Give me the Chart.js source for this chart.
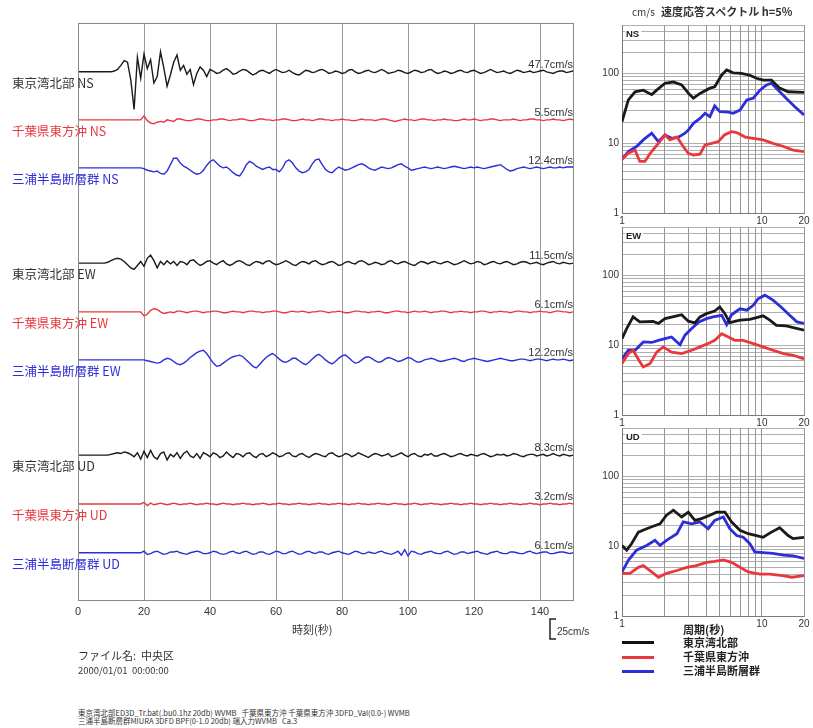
<!DOCTYPE html>
<html>
<head>
<meta charset="utf-8">
<script src="https://cdn.jsdelivr.net/npm/chart.js@4/dist/chart.umd.min.js"></script>
<style>
  body { margin: 0; background: #fff; width: 813px; height: 728px; position: relative; overflow: hidden;
         font-family: "Noto Sans CJK JP", "Noto Sans", sans-serif; color: #222; }
  canvas { position: absolute; }
  .t { position: absolute; white-space: nowrap; line-height: 1; }
  .lg { position: absolute; left: 622px; width: 32px; height: 3px; }
</style>
</head>
<body>
<canvas id="wave" width="620" height="690" style="left:0;top:0"></canvas>
<canvas id="specNS" width="223" height="212" style="left:590px;top:15px"></canvas>
<canvas id="specEW" width="223" height="212" style="left:590px;top:217px"></canvas>
<canvas id="specUD" width="223" height="212" style="left:590px;top:418px"></canvas>

<div class="t" style="left:632px;top:7px;font-size:10px;color:#333">cm/s</div>
<div class="t" style="left:661px;top:6px;font-size:11px;font-weight:bold;color:#333">速度応答スペクトル h=5%</div>

<div class="t" style="left:292px;top:624px;font-size:11px;color:#333">時刻(秒)</div>
<div class="t" style="left:78px;top:650px;font-size:11px;color:#333">ファイル名:&nbsp;&nbsp;中央区</div>
<div class="t" style="left:78px;top:666px;font-size:9.5px;color:#333">2000/01/01&nbsp;&nbsp;00:00:00</div>
<div class="t" style="left:78px;top:709px;font-size:7.5px;color:#333">東京湾北部ED3D_Tr.bat(.bu0.1hz 20db) WVMB&nbsp;&nbsp; 千葉県東方沖 千葉県東方沖 3DFD_Val(0.0-) WVMB</div>
<div class="t" style="left:78px;top:717px;font-size:7.5px;color:#333">三浦半島断層群MIURA 3DFD BPF(0-1.0 20db) 端入力WVMB&nbsp;&nbsp; Ca.3</div>

<div class="t" style="left:683px;top:624px;font-size:11px;font-weight:bold;color:#222">周期(秒)</div>
<div class="lg" style="top:641px;background:#111"></div>
<div class="lg" style="top:656px;background:#e8383d"></div>
<div class="lg" style="top:670px;background:#2e2ed8"></div>
<div class="t" style="left:683px;top:637px;font-size:11px;font-weight:bold;color:#222">東京湾北部</div>
<div class="t" style="left:683px;top:651px;font-size:11px;font-weight:bold;color:#222">千葉県東方沖</div>
<div class="t" style="left:683px;top:665px;font-size:11px;font-weight:bold;color:#222">三浦半島断層群</div>

<script>
// ---- waveform data (cm/s, one sample per second, 0..150 s) ----
const TIME = Array.from({ length: 151 }, (_, i) => i);
const TIME_TICKS = [0, 20, 40, 60, 80, 100, 120, 140];

const STATIONS = ["東京湾北部", "千葉県東方沖", "三浦半島断層群"];
const COMPONENTS = ["NS", "EW", "UD"];
const PEAKS = [47.7, 5.5, 12.4, 11.5, 6.1, 12.2, 8.3, 3.2, 6.1];

const TOKYO_NS = [
  0,0,0,0,0,0,0,0,0,0,
  0,1,3,8,14,12,-10,-47,18,-8,
  22,4,15,-14,-6,25,5,-18,-4,12,
  21,2,8,-3,3,-16,-2,6,2,-6,
  3,1,-2,-1,2,4,1,-3,-2,1,
  3,2,-1,-4,-2,1,2,0,-2,1,
  3,1,-1,0,2,-1,-3,-4,-1,2,
  1,-1,0,2,3,1,-2,-1,1,0,
  -2,-1,2,3,0,-2,-1,1,2,0,
  -1,1,3,1,-2,-1,0,2,1,-1,
  -2,0,2,1,-1,0,2,3,0,-2,
  -1,1,0,-2,-1,1,2,0,-1,1,
  2,0,-2,-1,1,3,1,-1,0,1,
  -1,-2,0,2,1,-1,0,1,-1,0,
  1,2,0,-1,-2,0,1,1,-1,0,
  1];
const CHIBA_NS = [
  0,0,0,0,0,0,0,0,0,0,
  0,0,0,0,0,0,0,0,0,0,
  5,-1,-4,-5,-3,-2,-3,0,-1,-2,
  1,1,0,-1,-1,0,1,1,0,-1,
  -1,0,0,1,1,0,-1,0,0,1,
  1,0,-1,-1,0,1,1,0,0,-1,
  0,0,1,1,0,-1,-1,0,1,0,
  0,-1,0,1,1,0,0,-1,0,0,
  1,0,0,-1,-1,0,1,0,0,0,
  -1,0,1,1,0,-1,-2,-1,0,1,
  0,0,-1,0,1,1,0,0,-1,0,
  0,1,0,0,-1,-1,0,1,0,0,
  1,0,-1,0,0,1,1,0,-1,0,
  0,0,1,0,-1,0,0,1,1,0,
  0,-1,0,0,1,0,0,-1,0,1,
  0];
const MIURA_NS = [
  0,0,0,0,0,0,0,0,0,0,
  0,0,0,0,0,0,0,0,0,0,
  -1,-3,-4,-5,-4,-7,-8,-4,4,12,
  12,6,2,0,-3,-6,-8,-7,-3,3,
  8,10,6,2,0,1,-2,-6,-9,-10,
  -4,4,8,6,2,0,-2,0,1,-2,
  -2,-5,0,8,10,6,0,-4,-6,-5,
  -2,5,10,11,4,-2,-5,-6,-2,1,
  -1,-3,-2,0,2,4,5,3,0,-2,
  -3,-1,1,0,-1,0,2,4,5,2,
  0,-3,-2,-1,0,1,0,-1,0,1,
  0,-1,0,1,2,1,0,-1,0,1,
  0,1,0,-1,0,1,2,3,4,1,
  -2,-4,-3,-1,0,1,0,-1,0,1,
  0,-1,0,1,0,0,1,0,1,1,
  1];
const TOKYO_EW = [
  0,0,0,0,0,0,0,0,0,1,
  3,5,6,5,2,-2,-6,-8,-3,2,
  -4,6,10,3,-6,2,-2,3,-1,2,
  -3,2,1,-2,3,4,0,-3,-1,2,
  3,0,-2,1,3,-1,-3,-1,2,3,
  1,-2,-3,0,2,1,-1,2,3,0,
  -2,-1,1,3,1,-2,-3,0,2,1,
  -1,2,3,0,-2,-1,1,2,0,-3,
  -2,1,2,0,-1,2,3,1,-2,-1,
  1,0,-2,-1,2,3,0,-1,1,2,
  0,-2,-3,0,2,1,-1,1,2,0,
  -1,1,2,0,-2,-1,1,3,1,-1,
  0,2,1,-2,-1,1,2,0,-1,1,
  2,0,-2,-1,1,2,1,-1,0,1,
  -1,-2,0,1,2,0,-1,1,0,-1,
  0];
const CHIBA_EW = [
  0,0,0,0,0,0,0,0,0,0,
  0,0,0,0,0,0,0,0,0,0,
  -5,-3,2,4,3,0,-2,-1,0,-1,
  1,1,0,-1,0,1,1,0,-1,0,
  0,1,1,0,-1,-1,0,1,0,0,
  -1,0,1,1,0,0,-1,0,0,1,
  1,0,-1,-1,0,1,0,0,1,0,
  -1,0,0,1,1,0,-1,0,0,1,
  0,-1,-1,0,1,1,0,0,-1,0,
  0,1,0,-1,-1,0,1,1,0,0,
  -1,0,1,0,0,1,0,-1,0,0,
  1,1,0,-1,0,0,1,0,0,-1,
  0,0,1,1,0,-1,0,0,1,0,
  0,-1,0,1,1,0,0,-1,0,0,
  1,0,0,-1,0,1,1,0,0,-1,
  0];
const MIURA_EW = [
  0,0,0,0,0,0,0,0,0,0,
  0,0,0,0,0,0,0,0,0,0,
  0,-1,-2,-3,-4,-3,0,2,1,-2,
  -5,-6,-4,-1,3,6,9,11,12,8,
  2,-4,-8,-7,-4,-1,2,4,5,6,
  4,0,-4,-8,-10,-6,-1,3,6,8,
  5,1,-2,-3,-1,2,2,-1,-4,-6,
  -3,1,5,7,4,0,-3,-5,-2,2,
  5,6,3,-1,-4,-3,0,3,4,2,
  -1,-3,-2,1,3,2,0,-2,-1,1,
  3,2,-1,-3,-2,0,1,2,1,-1,
  -2,-1,0,1,2,1,-1,-2,0,1,
  2,1,0,-1,-2,-1,0,1,2,1,
  0,-1,-1,0,1,1,0,-1,0,1,
  1,0,-1,0,1,0,0,1,0,-1,
  0];
const TOKYO_UD = [
  0,0,0,0,0,0,0,0,0,0,
  1,2,3,2,4,3,1,-2,3,-5,
  5,-3,6,-2,-5,2,4,-6,1,-2,
  3,-4,2,5,-1,-3,2,-4,3,1,
  -2,3,1,-3,-1,4,0,-3,2,1,
  -2,2,3,-1,-3,1,2,-2,0,3,
  1,-2,-1,2,3,-1,-2,1,2,-1,
  -3,0,2,1,-1,-2,2,3,0,-2,
  -1,2,1,-2,0,3,1,-1,-3,0,
  2,1,-1,0,2,-2,-1,1,3,0,
  -2,1,2,-1,-2,1,0,2,-1,-1,
  1,2,0,-2,-1,1,2,0,-1,1,
  0,-1,1,2,0,-2,-1,1,0,1,
  -1,0,2,1,-1,-2,0,1,1,-1,
  0,1,-1,0,2,0,-1,1,0,-1,
  0];
const CHIBA_UD = [
  0,0,0,0,0,0,0,0,0,0,
  0,0,0,0,0,0,0,0,0,0,
  2,-2,1,-1,0,1,0,-1,0,1,
  0,-1,0,0,1,0,-1,0,0,1,
  0,0,-1,0,1,0,0,-1,0,0,
  1,0,0,-1,0,0,1,0,-1,0,
  0,1,0,0,-1,0,0,1,0,0,
  -1,0,0,1,0,0,-1,0,0,1,
  0,0,-1,0,0,1,0,0,-1,0,
  0,1,0,0,-1,0,1,0,0,-1,
  0,0,1,0,-1,0,0,1,0,0,
  -1,0,0,1,0,0,-1,0,0,1,
  0,0,-1,0,0,1,0,0,-1,0,
  0,1,0,0,-1,0,0,1,0,0,
  -1,0,0,1,0,0,-1,0,0,1,
  0];
const MIURA_UD = [
  0,0,0,0,0,0,0,0,0,0,
  0,0,0,0,0,0,0,0,0,0,
  2,-2,-1,1,2,0,-2,-1,1,1,
  2,0,-1,-2,0,1,2,1,-1,-1,
  0,2,1,-1,-2,-1,1,2,0,-1,
  1,2,0,-2,-1,1,1,-1,-2,0,
  2,1,-1,-1,1,2,0,-2,-1,1,
  2,0,-1,1,1,-1,-2,0,1,2,
  0,-1,-2,0,2,1,-1,-1,1,0,
  -1,1,2,0,-1,-2,0,2,-3,4,
  -4,2,1,-1,-2,0,1,2,0,-1,
  -1,1,2,0,-2,-1,1,1,-1,0,
  1,2,0,-1,-2,0,1,2,0,-1,
  -1,1,1,0,-1,-1,1,2,0,-1,
  0,1,1,-1,-1,0,1,1,0,-1,
  0];

// ---- velocity response spectra (period s, cm/s) ----
const SPEC_X_LABELS = [1, 10, 20];
const SPEC_Y_LABELS = [1, 10, 100];

const NS_TOKYO_T = [1,1.11,1.24,1.42,1.63,1.77,2.03,2.33,2.67,2.98,3.24,3.61,4.25,4.6,5.16,5.6,6.23,7.14,8.2,9.15,10.2,11.7,13.4,15.4,20];
const NS_TOKYO_V = [20.5,42,55,58,50,58,73,76,69,52.5,44.5,52,62,65,96,113,103,101,95,86,81,81,62,55,54];
const NS_CHIBA_T = [1,1.11,1.24,1.34,1.46,1.59,1.82,2.03,2.2,2.47,2.74,2.98,3.24,3.61,3.92,4.37,4.88,5.39,6.07,6.6,7.6,8.67,10.2,12,14.3,16.7,20];
const NS_CHIBA_V = [5.9,7.2,8,5.5,5.5,7.2,10,13.2,11.2,12.3,9,7.2,6.8,7,9.5,10,10.6,13.2,14.7,14.3,12.3,11.8,11.2,10,9,8,7.6];
const NS_MIURA_T = [1,1.11,1.27,1.42,1.63,1.82,2.03,2.26,2.53,2.82,2.98,3.24,3.61,3.92,4.25,4.6,5.0,5.76,6.23,6.97,7.8,8.67,9.69,10.8,11.7,13.1,14.9,17.2,20];
const NS_MIURA_V = [5.9,7.6,9,11.2,14,10.6,13.2,11.8,12.3,14,15.5,19.4,22.8,27,24.2,34.5,28.5,28,27,30,42,44.5,58,69,73,58,44.5,33.6,25.6];

const EW_TOKYO_T = [1,1.08,1.2,1.34,1.67,1.82,2.03,2.47,2.67,2.98,3.32,3.61,4.02,4.6,5.0,5.44,5.9,6.97,8.2,9.15,10.2,11.4,12.7,14.9,20];
const EW_TOKYO_V = [12.5,17.4,25.6,21.7,22,20.6,24.2,26.5,27.5,22.2,21,25.6,28.5,31,35.5,28.5,21.2,23,23.6,25,26.5,23,19.4,19,16.5];
const EW_CHIBA_T = [1,1.11,1.2,1.32,1.42,1.59,1.77,1.97,2.26,2.67,3.15,3.61,4.25,4.6,5.16,5.76,6.4,7.36,8.67,10.2,12,14.3,16.7,20];
const EW_CHIBA_V = [5.5,7.6,8.5,6.1,4.9,5.5,8,9.5,8,7.6,8.5,9.5,10.9,11.8,14.7,13.2,11.8,11.8,10.6,9.5,8.5,7.6,7.2,6.4];
const EW_MIURA_T = [1,1.11,1.24,1.42,1.63,1.82,2.03,2.26,2.6,2.82,3.15,3.55,4.02,4.48,5.16,5.6,6.07,6.97,7.8,8.67,9.4,10.5,12,13.7,15.8,17.8,20];
const EW_MIURA_V = [6.4,8.5,8.5,11.2,11,11.8,12.5,13.2,10.2,14,17.4,21.7,24.2,25.6,27,19.8,27.5,33.5,32,37.6,46.7,52.5,44.5,35.5,27,21.7,20.6];

const UD_TOKYO_T = [1,1.08,1.17,1.31,1.5,1.67,1.87,2.08,2.33,2.67,2.98,3.32,3.7,4.25,4.74,5.44,6.07,6.97,7.98,9.15,10.2,11.7,13.4,15.4,16.7,20];
const UD_TOKYO_V = [10.3,8.8,10.9,16,17.9,19.4,21,28,33,26.4,31,23.6,25,28,31,31,22.4,17,15.2,14.3,13.5,16,18.5,14.3,12.9,13.5];
const UD_CHIBA_T = [1,1.14,1.31,1.42,1.63,1.82,2.08,2.47,2.9,3.4,4.02,4.6,5.3,6.07,6.97,7.98,9.69,11.4,14,16.4,20];
const UD_CHIBA_V = [4.1,4.1,5.0,5.3,4.3,3.6,4.1,4.5,5.0,5.3,5.9,6.1,6.4,5.9,5.0,4.3,4.0,4.0,3.8,3.6,3.8];
const UD_MIURA_T = [1,1.11,1.27,1.5,1.72,1.87,2.08,2.47,2.74,3.15,3.61,4.13,4.6,5.3,5.9,6.6,7.36,8.2,8.9,10.2,12,14.3,16.7,20];
const UD_MIURA_V = [4.3,6.3,8.8,10.3,12.2,10.3,12.2,15.2,22.4,21,22.4,17.9,23.6,26.4,17.9,14.3,13.5,10.9,8.3,8.1,7.9,7.5,7.3,6.7];

// ---- styling / layout ----
const COLORS = ["#1a1a1a", "#e8383d", "#2e2ed8"];
const LABEL_COLORS = ["#333333", "#e8383d", "#2e2ed8"];
// vertical offset of each trace (cm/s units on the stacked axis)
const OFFSETS = [-61, -121, -181, -300, -361, -421, -540, -601, -662];
const Y_BOTTOM = -721;

const WAVES = [TOKYO_NS, CHIBA_NS, MIURA_NS, TOKYO_EW, CHIBA_EW, MIURA_EW, TOKYO_UD, CHIBA_UD, MIURA_UD];

const waveDecor = {
  id: "waveDecor",
  afterDraw(chart) {
    const { ctx, chartArea: a, scales: { y } } = chart;
    ctx.save();
    ctx.strokeStyle = "#8a8a8a";
    ctx.lineWidth = 1;
    ctx.strokeRect(a.left + 0.5, a.top + 0.5, a.right - a.left, a.bottom - a.top);

    WAVES.forEach((_, i) => {
      const base = y.getPixelForValue(OFFSETS[i]);
      const st = i % 3;
      const comp = COMPONENTS[Math.floor(i / 3)];
      ctx.font = '12.5px "Noto Sans CJK JP"';
      ctx.fillStyle = LABEL_COLORS[st];
      ctx.textAlign = "left";
      ctx.textBaseline = "middle";
      ctx.fillText(STATIONS[st] + " " + comp, 12, base + 11);

      ctx.font = '11px "Liberation Sans", sans-serif';
      ctx.fillStyle = "#333";
      ctx.textAlign = "right";
      ctx.textBaseline = "alphabetic";
      ctx.fillText(PEAKS[i].toFixed(1) + "cm/s", a.right, base - 4);
    });

    // 25 cm/s scale bar
    const len = y.getPixelForValue(-25) - y.getPixelForValue(0);
    const bx = 550, by = 619;
    ctx.strokeStyle = "#222";
    ctx.lineWidth = 1.5;
    ctx.beginPath();
    ctx.moveTo(bx + 6, by);
    ctx.lineTo(bx, by);
    ctx.lineTo(bx, by + len);
    ctx.lineTo(bx + 6, by + len);
    ctx.stroke();
    ctx.font = '10px "Liberation Sans", sans-serif';
    ctx.fillStyle = "#333";
    ctx.textAlign = "left";
    ctx.textBaseline = "middle";
    ctx.fillText("25cm/s", bx + 7, by + len - 7);
    ctx.restore();
  },
};

new Chart(document.getElementById("wave"), {
  type: "line",
  data: {
    datasets: WAVES.map((w, i) => ({
      data: w.map((v, k) => ({ x: TIME[k], y: OFFSETS[i] + v })),
      borderColor: COLORS[i % 3],
      borderWidth: 1.4,
      pointRadius: 0,
      tension: 0,
    })),
  },
  options: {
    responsive: false,
    animation: false,
    layout: { padding: { left: 78, top: 23, right: 47, bottom: 70 } },
    plugins: { legend: { display: false }, tooltip: { enabled: false } },
    scales: {
      x: {
        type: "linear",
        min: 0,
        max: 150,
        afterBuildTicks: (s) => { s.ticks = TIME_TICKS.map((v) => ({ value: v })); },
        afterFit: (s) => { s.height = 20; },
        ticks: { color: "#333", font: { size: 11, family: "Liberation Sans" }, padding: 5, maxRotation: 0, autoSkip: false },
        grid: { color: "#9a9a9a", lineWidth: 1, drawTicks: false },
        border: { color: "#8a8a8a" },
      },
      y: { type: "linear", min: Y_BOTTOM, max: 0, display: false },
    },
  },
  plugins: [waveDecor],
});

// ---- spectra ----
const LOG_X_GRID = [1, 2, 3, 4, 5, 6, 7, 8, 9, 10, 20];
const LOG_Y_GRID = [1, 2, 3, 4, 5, 6, 7, 8, 9, 10, 20, 30, 40, 50, 60, 70, 80, 90, 100, 200, 300, 400, 500];

const panelLabel = {
  id: "panelLabel",
  afterDraw(chart) {
    const { ctx, chartArea: a } = chart;
    const txt = chart.options.plugins.panelLabel.text;
    ctx.save();
    ctx.font = 'bold 9.5px "Liberation Sans", sans-serif';
    const w = ctx.measureText(txt).width;
    ctx.fillStyle = "#fff";
    ctx.fillRect(a.left + 3, a.top + 4, w + 3, 10);
    ctx.fillStyle = "#222";
    ctx.textBaseline = "middle";
    ctx.fillText(txt, a.left + 4, a.top + 9);
    ctx.restore();
  },
};

function makeSpectrum(id, label, curves) {
  new Chart(document.getElementById(id), {
    type: "line",
    data: {
      datasets: curves.map((c, i) => ({
        data: c[0].map((t, k) => ({ x: t, y: c[1][k] })),
        borderColor: COLORS[i],
        borderWidth: 2.8,
        pointRadius: 0,
        tension: 0,
      })),
    },
    options: {
      responsive: false,
      animation: false,
      layout: { padding: { left: 2, top: 10, right: 9, bottom: 0 } },
      plugins: { legend: { display: false }, tooltip: { enabled: false }, panelLabel: { text: label } },
      scales: {
        x: {
          type: "logarithmic",
          min: 1,
          max: 20,
          afterBuildTicks: (s) => { s.ticks = LOG_X_GRID.map((v) => ({ value: v })); },
          afterFit: (s) => { s.height = 14; },
          ticks: {
            autoSkip: false,
            maxRotation: 0,
            padding: 2,
            color: "#333",
            font: { size: 10, family: "Liberation Sans" },
            callback: (v) => (SPEC_X_LABELS.includes(v) ? String(v) : ""),
          },
          grid: { color: "#7a7a7a", lineWidth: 0.8, drawTicks: false },
          border: { color: "#7a7a7a" },
        },
        y: {
          type: "logarithmic",
          min: 1,
          max: 500,
          afterBuildTicks: (s) => { s.ticks = LOG_Y_GRID.map((v) => ({ value: v })); },
          afterFit: (s) => { s.width = 30; },
          ticks: {
            autoSkip: false,
            padding: 3,
            color: "#333",
            font: { size: 10, family: "Liberation Sans" },
            callback: (v) => (SPEC_Y_LABELS.includes(v) ? String(v) : ""),
          },
          grid: { color: "#9a9a9a", lineWidth: 0.8, drawTicks: false },
          border: { color: "#7a7a7a" },
        },
      },
    },
    plugins: [panelLabel],
  });
}

makeSpectrum("specNS", "NS", [[NS_TOKYO_T, NS_TOKYO_V], [NS_CHIBA_T, NS_CHIBA_V], [NS_MIURA_T, NS_MIURA_V]]);
makeSpectrum("specEW", "EW", [[EW_TOKYO_T, EW_TOKYO_V], [EW_CHIBA_T, EW_CHIBA_V], [EW_MIURA_T, EW_MIURA_V]]);
makeSpectrum("specUD", "UD", [[UD_TOKYO_T, UD_TOKYO_V], [UD_CHIBA_T, UD_CHIBA_V], [UD_MIURA_T, UD_MIURA_V]]);
</script>
</body>
</html>
